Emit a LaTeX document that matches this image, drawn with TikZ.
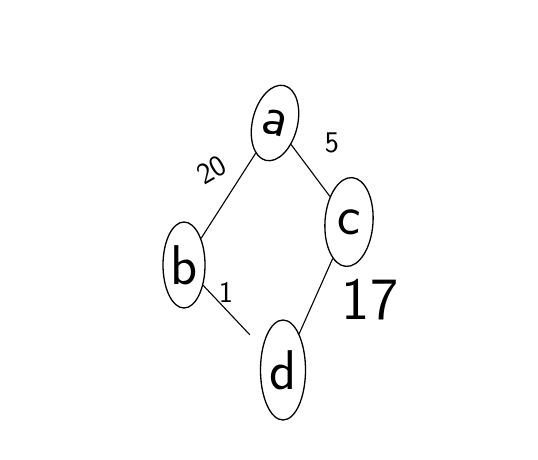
\documentclass[tikz,border=0pt]{standalone}
\usetikzlibrary{shapes.geometric}
\tikzstyle{vertex} = [ellipse, draw, line width=1.3pt, inner sep=0pt, font=\sffamily\fontsize{56}{56}\selectfont]
\tikzstyle{edge} = [draw, line width=1.1pt]
\tikzstyle{weight} = [font=\sffamily\fontsize{30}{30}\selectfont]
\begin{document}
\begin{tikzpicture}[x=1pt, y=-1pt]
\useasboundingbox (0,0) rectangle (538,460);
\node [vertex, minimum width=45pt, minimum height=77pt, rotate=-14] (a) at (275,123) {a};
\node [vertex, minimum width=42pt, minimum height=86pt] (b) at (184,265) {b};
\node [vertex, minimum width=48pt, minimum height=89pt, rotate=-4] (c) at (349,222) {c};
\node [vertex, minimum width=45pt, minimum height=100pt] (d) at (283,370) {d};
\node [weight, rotate=30] (w20) at (212,170) {20};
\node [weight] (w5) at (332,143) {5};
\node [weight] (w1) at (226,292) {1};
\node [weight, font=\sffamily\fontsize{60}{60}\selectfont] (w17) at (370,300) {17};
\path [edge] (a) -- (b);
\path [edge] (a) -- (c);
\path [edge] (c) -- (d);
\path [edge, shorten >=18pt] (b) -- (d);
\end{tikzpicture}
\end{document}
